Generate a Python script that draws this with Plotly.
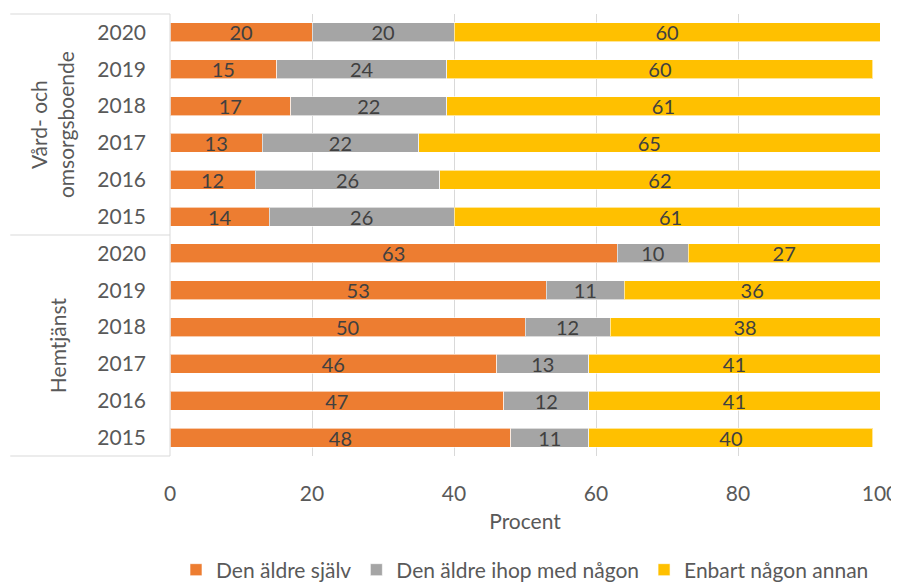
import plotly.graph_objects as go

years = ["2020", "2019", "2018", "2017", "2016", "2015"]
groups = ["Vård- och<br>omsorgsboende", "Hemtjänst"]

series_names = ["Den äldre själv", "Den äldre ihop med någon", "Enbart någon annan"]
colors = ["#ED7D31", "#A5A5A5", "#FFC000"]

vo_self = [20, 15, 17, 13, 12, 14]
vo_together = [20, 24, 22, 22, 26, 26]
vo_other = [60, 60, 61, 65, 62, 61]

hem_self = [63, 53, 50, 46, 47, 48]
hem_together = [10, 11, 12, 13, 12, 11]
hem_other = [27, 36, 38, 41, 41, 40]

x_ticks = [0, 20, 40, 60, 80, 100]

# unique category per row, shown as the year only
rows = [f"vo{y}" for y in years] + [f"hem{y}" for y in years]
row_labels = years + years

values = [vo_self + hem_self, vo_together + hem_together, vo_other + hem_other]

FONT = "Lato, 'Open Sans', sans-serif"
TXT = "#404040"
LBL = "#595959"
GRID = "#d9d9d9"

fig = go.Figure()
for name, color, vals in zip(series_names, colors, values):
    fig.add_trace(go.Bar(
        y=rows, x=vals, name=name, orientation="h",
        marker=dict(color=color, line=dict(color="rgba(255,255,255,0.6)", width=1)),
        text=[str(v) for v in vals], textposition="inside", insidetextanchor="middle",
        textangle=0,
        textfont=dict(size=20, color=TXT, family=FONT),
    ))

# page body has an 8px margin, so the figure is inset 8px from the window
fig.update_layout(
    barmode="stack",
    bargap=0.48,
    width=891, height=575,
    plot_bgcolor="white", paper_bgcolor="white",
    margin=dict(l=162, r=19, t=6, b=127, autoexpand=False),
    font=dict(family=FONT, color=LBL, size=20),
    uniformtext=dict(minsize=14, mode="show"),
    legend=dict(orientation="h", x=0.5, xanchor="center", y=-0.258, yanchor="middle",
                font=dict(size=21, color=LBL), traceorder="normal"),
    showlegend=True,
)
fig.update_xaxes(
    range=[0, 100], tickvals=x_ticks, showgrid=True, gridcolor=GRID, gridwidth=1,
    zeroline=False, showline=False, ticks="", tickfont=dict(size=21, color=LBL),
    ticklabelstandoff=23, ticklabeloverflow="allow",
    title=dict(text="Procent", font=dict(size=21, color=LBL), standoff=10),
    automargin=False,
)
fig.update_yaxes(
    type="category", categoryorder="array", categoryarray=rows, autorange="reversed",
    tickvals=rows, ticktext=row_labels, ticks="", showgrid=False,
    tickfont=dict(size=21, color=LBL), ticklabelstandoff=23, automargin=False,
)

# group dividers and rotated group labels on the left
for yp in [0, 0.5, 1]:
    fig.add_shape(type="line", xref="paper", yref="paper", x0=-0.225, x1=0, y0=yp, y1=yp,
                  line=dict(color=GRID, width=1))
fig.add_shape(type="line", xref="paper", yref="paper", x0=0, x1=0, y0=0, y1=1,
              line=dict(color=GRID, width=1))
for label, xc, yc in zip(groups, [-0.166, -0.159], [0.749, 0.251]):
    fig.add_annotation(text=label, xref="paper", yref="paper", x=xc, y=yc,
                       xanchor="center", yanchor="middle",
                       textangle=-90, showarrow=False, font=dict(size=21, color=LBL),
                       align="center")

fig.write_html("out.html")
